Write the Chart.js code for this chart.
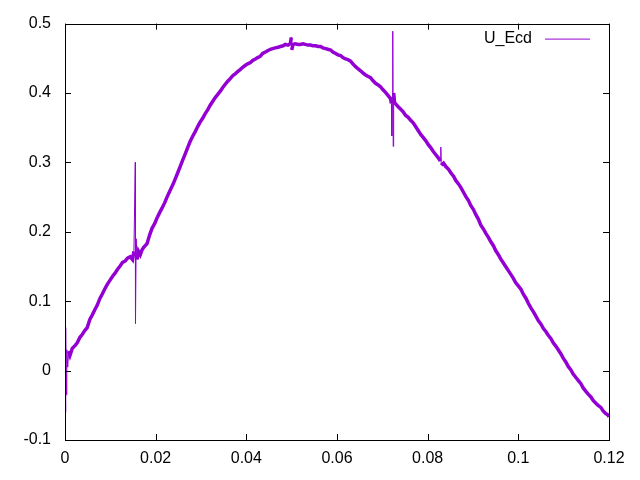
<!DOCTYPE html>
<html>
<head>
<meta charset="utf-8">
<script src="https://cdn.jsdelivr.net/npm/chart.js@4.4.1/dist/chart.umd.min.js"></script>
<style>
    html, body { margin: 0; padding: 0; background: #ffffff; }
    #wrap { width: 640px; height: 480px; }
</style>
</head>
<body>
<div id="wrap"><canvas id="ecdChart" width="640" height="480"></canvas></div>
<script>
const seriesLabel = 'U_Ecd';

// time (x) and U_Ecd (y)
const xVals = [
    0, 0.0001, 0.0002, 0.0003, 0.0004, 0.0006, 0.0008, 0.0011, 0.0016, 0.0022,
    0.0027, 0.0033, 0.0038, 0.0044, 0.0049, 0.0055, 0.0060, 0.0066, 0.0071, 0.0077,
    0.0082, 0.0088, 0.0093, 0.0099, 0.0105, 0.0110, 0.0116, 0.0122, 0.0127, 0.0133,
    0.0138, 0.0144, 0.0149, 0.0152, 0.0155, 0.01555, 0.0157, 0.0159, 0.0162, 0.0166,
    0.0170, 0.0174, 0.0181, 0.0187, 0.0192, 0.0198, 0.0203, 0.0209, 0.0214, 0.0220,
    0.0225, 0.0232, 0.0238, 0.0243, 0.0248, 0.0254, 0.0260, 0.0265, 0.0271, 0.0276,
    0.0282, 0.0287, 0.0293, 0.0298, 0.0304, 0.0309, 0.0315, 0.0320, 0.0326, 0.0331,
    0.0337, 0.0343, 0.0348, 0.0354, 0.0359, 0.0365, 0.0370, 0.0376, 0.0381, 0.0387,
    0.0392, 0.0398, 0.0403, 0.0409, 0.0414, 0.0420, 0.0425, 0.0431, 0.0436, 0.0442,
    0.0447, 0.0453, 0.0458, 0.0464, 0.0470, 0.0475, 0.0481, 0.0486, 0.0492, 0.0497,
    0.0499, 0.0500, 0.0503, 0.0508, 0.0514, 0.0519, 0.0525, 0.0530, 0.0536, 0.0541,
    0.0547, 0.0553, 0.0558, 0.0564, 0.0569, 0.0575, 0.0580, 0.0586, 0.0591, 0.0597,
    0.0602, 0.0608, 0.0613, 0.0619, 0.0624, 0.0630, 0.0635, 0.0641, 0.0646, 0.0652,
    0.0657, 0.0663, 0.0668, 0.0674, 0.0679, 0.0685, 0.0690, 0.0696, 0.0701, 0.0707,
    0.0712, 0.0718, 0.0720, 0.0721, 0.0722, 0.0723, 0.0724, 0.0725, 0.0727, 0.0730,
    0.0735, 0.0740, 0.0746, 0.0751, 0.0757, 0.0762, 0.0768, 0.0773, 0.0779, 0.0785,
    0.0790, 0.0796, 0.0801, 0.0807, 0.0812, 0.0818, 0.0823, 0.0828, 0.0829, 0.0830,
    0.0835, 0.0840, 0.0846, 0.0851, 0.0857, 0.0862, 0.0868, 0.0873, 0.0879, 0.0884,
    0.0890, 0.0895, 0.0901, 0.0906, 0.0912, 0.0917, 0.0923, 0.0928, 0.0934, 0.0939,
    0.0945, 0.0950, 0.0956, 0.0961, 0.0967, 0.0972, 0.0978, 0.0983, 0.0989, 0.0994,
    0.1000, 0.1006, 0.1011, 0.1017, 0.1022, 0.1028, 0.1033, 0.1039, 0.1044, 0.1050,
    0.1055, 0.1061, 0.1066, 0.1072, 0.1077, 0.1083, 0.1088, 0.1094, 0.1099, 0.1105,
    0.1110, 0.1116, 0.1121, 0.1127, 0.1132, 0.1138, 0.1143, 0.1149, 0.1154, 0.1160,
    0.1165, 0.1171, 0.1176, 0.1182, 0.1187, 0.1193, 0.1198, 0.1200
];
const yVals = [
    0.060, -0.060, 0.062, -0.035, 0.030, 0.005, 0.028, 0.022, 0.032, 0.036,
    0.040, 0.048, 0.052, 0.058, 0.062, 0.074, 0.080, 0.088, 0.094, 0.104,
    0.110, 0.118, 0.124, 0.130, 0.136, 0.140, 0.146, 0.151, 0.156, 0.158,
    0.162, 0.164, 0.160, 0.172, 0.300, 0.068, 0.190, 0.160, 0.172, 0.167,
    0.174, 0.178, 0.183, 0.196, 0.205, 0.212, 0.220, 0.228, 0.234, 0.242,
    0.250, 0.260, 0.268, 0.276, 0.284, 0.294, 0.304, 0.312, 0.322, 0.330,
    0.338, 0.344, 0.352, 0.358, 0.364, 0.370, 0.376, 0.382, 0.388, 0.393,
    0.398, 0.403, 0.408, 0.413, 0.417, 0.421, 0.425, 0.428, 0.431, 0.434,
    0.437, 0.440, 0.442, 0.444, 0.447, 0.449, 0.451, 0.453, 0.457, 0.459,
    0.461, 0.463, 0.464, 0.465, 0.466, 0.467, 0.468, 0.470, 0.469, 0.471,
    0.480, 0.462, 0.470, 0.471, 0.470, 0.470, 0.471, 0.470, 0.469, 0.469,
    0.468, 0.468, 0.467, 0.467, 0.465, 0.464, 0.463, 0.462, 0.459, 0.457,
    0.455, 0.454, 0.451, 0.449, 0.448, 0.446, 0.442, 0.438, 0.435, 0.432,
    0.429, 0.426, 0.424, 0.422, 0.418, 0.414, 0.412, 0.409, 0.405, 0.401,
    0.397, 0.392, 0.385, 0.338, 0.395, 0.489, 0.323, 0.400, 0.386, 0.384,
    0.380, 0.377, 0.373, 0.368, 0.365, 0.361, 0.357, 0.352, 0.346, 0.340,
    0.336, 0.331, 0.326, 0.321, 0.316, 0.311, 0.307, 0.302, 0.322, 0.296,
    0.299, 0.294, 0.290, 0.285, 0.280, 0.274, 0.269, 0.264, 0.257, 0.251,
    0.245, 0.238, 0.232, 0.225, 0.218, 0.210, 0.204, 0.198, 0.192, 0.186,
    0.180, 0.173, 0.167, 0.161, 0.155, 0.150, 0.144, 0.139, 0.133, 0.127,
    0.122, 0.117, 0.110, 0.104, 0.097, 0.090, 0.085, 0.078, 0.072, 0.067,
    0.061, 0.056, 0.051, 0.046, 0.040, 0.035, 0.030, 0.024, 0.018, 0.012,
    0.006, 0.001, -0.005, -0.010, -0.014, -0.019, -0.025, -0.030, -0.034, -0.038,
    -0.043, -0.047, -0.050, -0.053, -0.058, -0.062, -0.064, -0.067
];

const xTicks = [0, 0.02, 0.04, 0.06, 0.08, 0.1, 0.12];
const yTicks = [-0.1, 0, 0.1, 0.2, 0.3, 0.4, 0.5];

const lineColor = '#9400d3';
const fontFamily = '"Liberation Sans", Arial, sans-serif';

// gnuplot style frame: box + inward ticks on all four sides + key inside top right
const framePlugin = {
    id: 'frame',
    afterDatasetsDraw: function (chart) {
        const ctx = chart.ctx;
        const area = chart.chartArea;
        const xs = chart.scales.x;
        const ys = chart.scales.y;
        const tick = 6;
        ctx.save();
        ctx.strokeStyle = '#000000';
        ctx.lineWidth = 1;
        ctx.beginPath();
        xTicks.forEach(function (v) {
            const px = Math.round(xs.getPixelForValue(v)) + 0.5;
            ctx.moveTo(px, area.bottom);
            ctx.lineTo(px, area.bottom - tick);
            ctx.moveTo(px, area.top);
            ctx.lineTo(px, area.top + tick);
        });
        yTicks.forEach(function (v) {
            const py = Math.round(ys.getPixelForValue(v)) + 0.5;
            ctx.moveTo(area.left, py);
            ctx.lineTo(area.left + tick, py);
            ctx.moveTo(area.right, py);
            ctx.lineTo(area.right - tick, py);
        });
        ctx.stroke();
        ctx.strokeRect(Math.round(area.left) + 0.5, Math.round(area.top) + 0.5,
            Math.round(area.right - area.left), Math.round(area.bottom - area.top));

        // key
        const ky = area.top + 15;
        ctx.font = '16px ' + fontFamily;
        ctx.fillStyle = '#000000';
        ctx.textAlign = 'right';
        ctx.textBaseline = 'middle';
        ctx.fillText(chart.data.datasets[0].label, 532, ky);
        ctx.strokeStyle = lineColor;
        ctx.beginPath();
        ctx.moveTo(545, ky + 0.5);
        ctx.lineTo(590, ky + 0.5);
        ctx.stroke();
        ctx.restore();
    }
};

function fmt(v) {
    return String(Number(v.toFixed(2)));
}

new Chart(document.getElementById('ecdChart'), {
    type: 'line',
    data: {
        datasets: [{
            label: seriesLabel,
            data: xVals.map(function (x, i) { return { x: x, y: yVals[i] }; }),
            borderColor: lineColor,
            backgroundColor: lineColor,
            borderWidth: 3.5,
            pointRadius: 0,
            tension: 0,
            // the noisy trace looks thick, the isolated spikes are thin
            segment: {
                borderWidth: function (c) {
                    return Math.abs(c.p1.parsed.y - c.p0.parsed.y) > 0.015 ? 1 : 3.5;
                }
            }
        }]
    },
    options: {
        responsive: false,
        animation: false,
        layout: {
            padding: { left: 0, right: 31, top: 18, bottom: 0 }
        },
        plugins: {
            legend: { display: false },
            tooltip: { enabled: false }
        },
        scales: {
            x: {
                type: 'linear',
                min: 0,
                max: 0.12,
                afterFit: function (s) { s.height = 40; },
                afterBuildTicks: function (s) {
                    s.ticks = xTicks.map(function (v) { return { value: v }; });
                },
                grid: { display: false, drawTicks: false },
                border: { display: false },
                ticks: {
                    padding: 9,
                    color: '#000000',
                    font: { family: fontFamily, size: 16 },
                    maxRotation: 0,
                    callback: fmt
                }
            },
            y: {
                type: 'linear',
                min: -0.1,
                max: 0.5,
                afterFit: function (s) { s.width = 65; },
                afterBuildTicks: function (s) {
                    s.ticks = yTicks.map(function (v) { return { value: v }; });
                },
                grid: { display: false, drawTicks: false },
                border: { display: false },
                ticks: {
                    padding: 14,
                    color: '#000000',
                    font: { family: fontFamily, size: 16 },
                    callback: fmt
                }
            }
        }
    },
    plugins: [framePlugin]
});
</script>
</body>
</html>
